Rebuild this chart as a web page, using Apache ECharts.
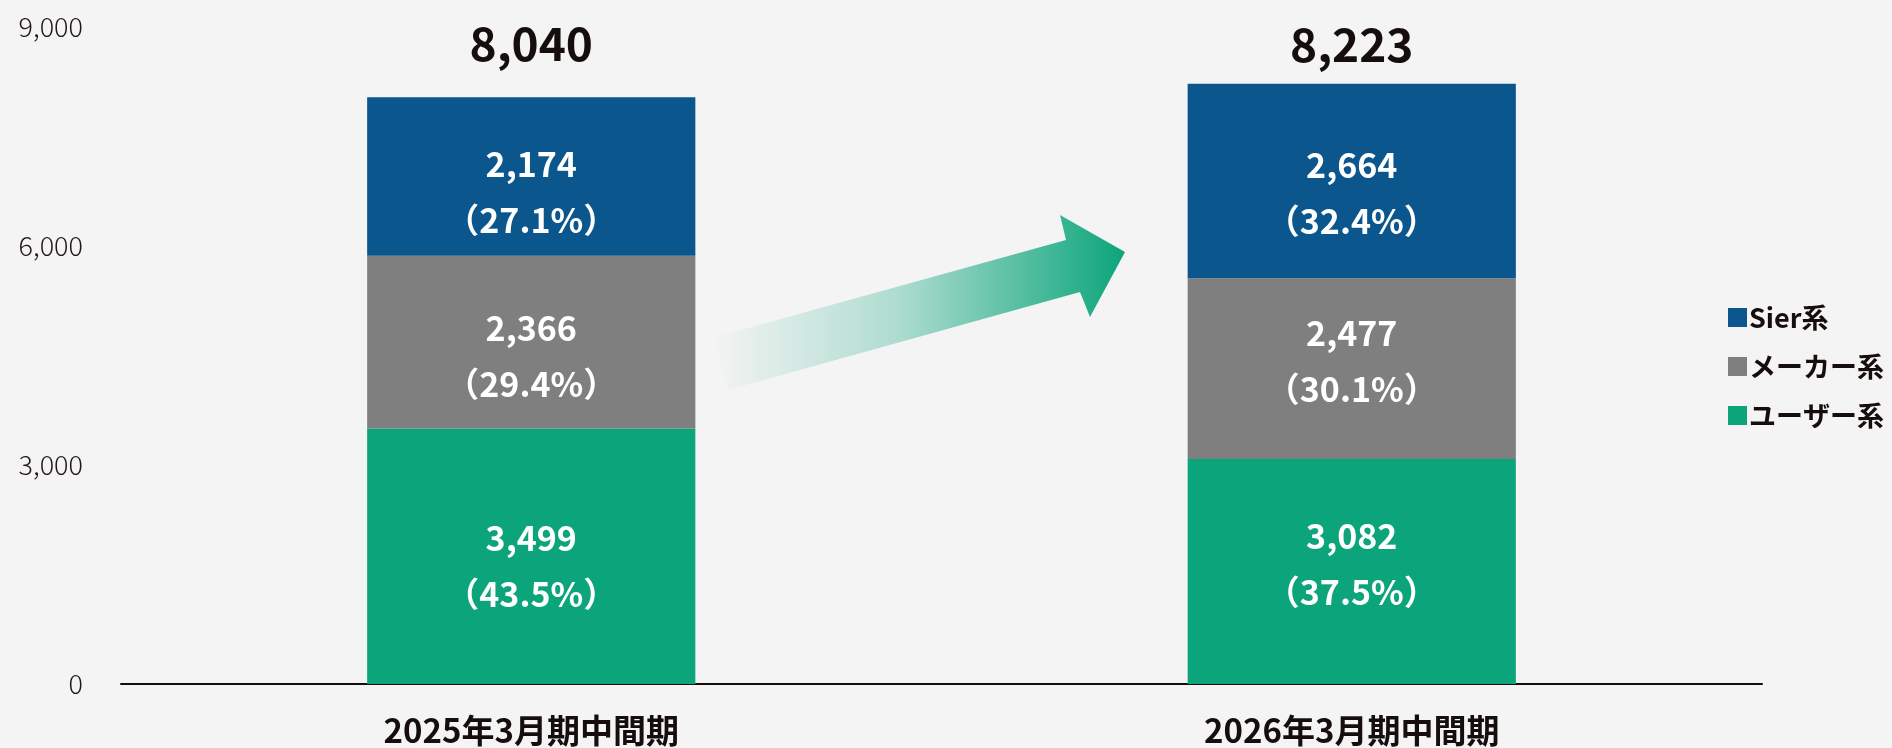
<!DOCTYPE html>
<html><head><meta charset="utf-8">
<script src="https://cdn.jsdelivr.net/npm/echarts@6/dist/echarts.min.js"></script>
<style>html,body{margin:0;padding:0;background:#f4f4f4;}#c{width:1892px;height:748px;}</style>
</head><body><div id="c"></div>
<script>
const categories = ['2025年3月期中間期', '2026年3月期中間期'];
const userValues = [3499, 3082];
const userPct = ['43.5%', '37.5%'];
const makerValues = [2366, 2477];
const makerPct = ['29.4%', '30.1%'];
const sierValues = [2174, 2664];
const sierPct = ['27.1%', '32.4%'];
const totals = [8040, 8223];
const yTicks = [0, 3000, 6000, 9000];

const FONT = '"Noto Sans CJK JP", "Noto Sans", sans-serif';
const DARK = '#150e0c';
const fmt = v => v.toLocaleString('en-US');
// label placement tweaks (style, not data)
const userOff = [10, -7];
const makerOff = [14, -8];
const sierOff = [16, 12];
const totalDist = [31, 16];

function segData(values, pcts, offs) {
  return values.map((v, i) => ({
    value: v,
    label: {
      show: true, position: 'inside', color: '#ffffff', fontFamily: FONT,
      fontSize: 34, fontWeight: 'bold', lineHeight: 56, offset: [0, offs[i]],
      formatter: () => fmt(v) + '\n（' + pcts[i] + '）'
    }
  }));
}
const chart = echarts.init(document.getElementById('c'));
chart.setOption({
  backgroundColor: '#f4f4f4',
  animation: false,
  grid: { left: 121, right: 130, top: 27, bottom: 64 },
  legend: {
    orient: 'vertical', left: 1723, top: 299,
    itemWidth: 19, itemHeight: 19, itemGap: 22,
    icon: 'rect',
    textStyle: { fontFamily: FONT, fontSize: 27, fontWeight: 'bold', color: DARK, padding: [0, 0, 0, -3] },
    data: ['Sier系', 'メーカー系', 'ユーザー系']
  },
  xAxis: {
    type: 'category', data: categories,
    axisLine: { lineStyle: { color: DARK, width: 2 } },
    axisTick: { show: false },
    axisLabel: { margin: 30, fontFamily: FONT, fontSize: 33, fontWeight: 'bold', color: DARK }
  },
  yAxis: {
    type: 'value', min: 0, max: 9000, interval: 3000,
    axisLine: { show: false }, axisTick: { show: false }, splitLine: { show: false },
    axisLabel: { margin: 38, fontFamily: FONT, fontSize: 27, fontWeight: 300, color: '#231815',
      formatter: v => yTicks.includes(v) ? fmt(v) : '' }
  },
  series: [
    { name: 'ユーザー系', type: 'bar', stack: 't', barWidth: '40%', data: segData(userValues, userPct, userOff),
      itemStyle: { color: '#0ca57b' } },
    { name: 'メーカー系', type: 'bar', stack: 't', data: segData(makerValues, makerPct, makerOff),
      itemStyle: { color: '#7f7f7f' } },
    { name: 'Sier系', type: 'bar', stack: 't', data: segData(sierValues, sierPct, sierOff),
      itemStyle: { color: '#0b568c' } },
    { name: 'total', type: 'scatter', symbolSize: 0, silent: true, itemStyle: { opacity: 1 },
      data: totals.map((v, i) => ({
        value: v,
        label: { show: true, position: 'top', distance: totalDist[i], fontFamily: FONT, fontSize: 46,
          fontWeight: 'bold', color: DARK, opacity: 1, formatter: () => fmt(v) }
      })) }
  ],
  graphic: [{
    type: 'polygon', silent: true,
    shape: { points: [[712, 338], [1066, 240], [1060, 215], [1125, 252], [1090, 317], [1080, 292], [728, 390]] },
    style: {
      fill: new echarts.graphic.LinearGradient(0, 0, 1, 0, [
        { offset: 0, color: 'rgba(12,165,123,0)' },
        { offset: 0.45, color: 'rgba(12,165,123,0.3)' },
        { offset: 1, color: 'rgba(12,165,123,1)' }
      ])
    }
  }]
});
</script></body></html>
